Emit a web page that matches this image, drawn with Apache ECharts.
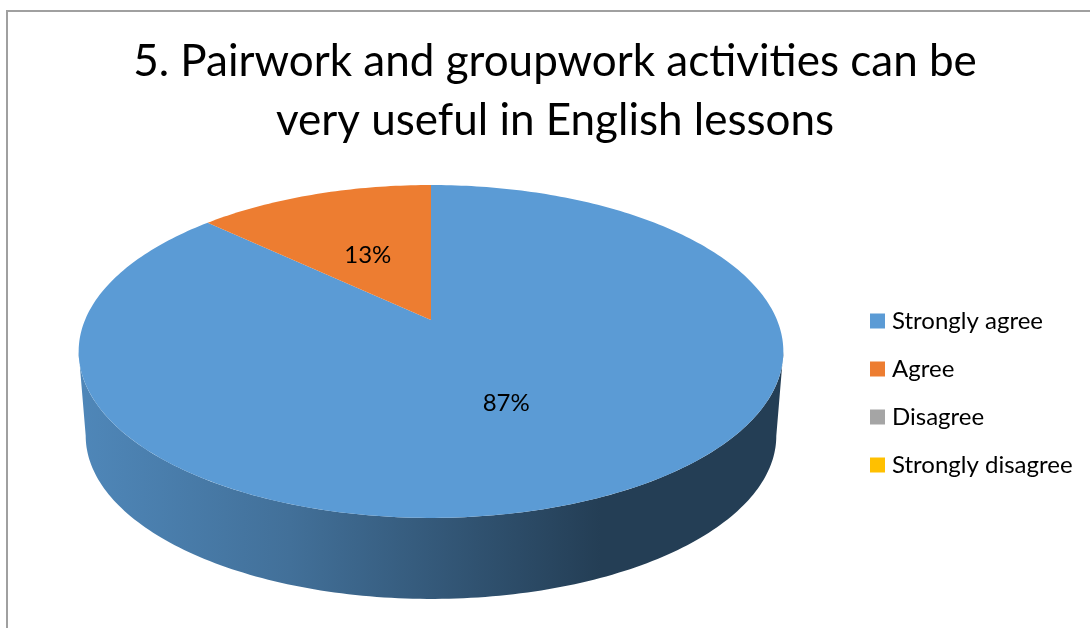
<!DOCTYPE html>
<html>
<head>
<meta charset="utf-8">
<script src="https://cdn.jsdelivr.net/npm/echarts@6/dist/echarts.min.js"></script>
<style>
  html, body { margin: 0; padding: 0; background: #ffffff; }
  #chart { width: 1090px; height: 628px; }
</style>
</head>
<body>
<div id="chart"></div>
<script>
// Survey question and answer shares (percent)
const titleLines = ['5. Pairwork and groupwork activities can be', 'very useful in English lessons'];
const categories = ['Strongly agree', 'Agree', 'Disagree', 'Strongly disagree'];
const shares = [87, 13, 0, 0];
const palette = ['#5b9bd5', '#ed7d31', '#a5a5a5', '#ffc000'];

const FONT = 'Lato, "Open Sans", sans-serif';

// Tilted disc seen in perspective: centre, half-axes, perspective strength,
// thickness of the rim and how much the underside shrinks with distance.
const DISC = { cx: 431, cy: 320, rx: 346, ry: 160.5, persp: 0.189, depth: 85, baseShrink: 0.98, labelR: 0.5 };

const total = shares.reduce((a, b) => a + b, 0);

// Angle is measured clockwise from 12 o'clock; r is a fraction of the radius.
function project(theta, r, drop, shrink) {
  const s = Math.sin(theta), c = Math.cos(theta);
  const w = 1 + DISC.persp * r * c;
  return [
    DISC.cx + DISC.rx * shrink * r * s / w,
    DISC.cy + drop - DISC.ry * shrink * r * c / w
  ];
}

function shade(hex, f) {
  const n = parseInt(hex.slice(1), 16);
  const r = Math.round(((n >> 16) & 255) * f);
  const g = Math.round(((n >> 8) & 255) * f);
  const b = Math.round((n & 255) * f);
  return 'rgb(' + r + ',' + g + ',' + b + ')';
}

// Slice angle ranges built from the shares
const ranges = [];
let acc = 0;
shares.forEach(function (v) {
  const t0 = acc / total * Math.PI * 2;
  acc += v;
  const t1 = acc / total * Math.PI * 2;
  ranges.push([t0, t1, v]);
});

function arcPoints(t0, t1, r, drop, shrink) {
  const pts = [];
  const n = Math.max(2, Math.ceil((t1 - t0) / (Math.PI / 180)));
  for (let i = 0; i <= n; i++) {
    pts.push(project(t0 + (t1 - t0) * i / n, r, drop, shrink));
  }
  return pts;
}

// Front rim: only the part of each slice facing the viewer is drawn
const visFrom = Math.acos(-DISC.persp);
const visTo = Math.PI * 2 - visFrom;

function renderRim(params, api) {
  const t0 = Math.max(api.value(0), visFrom);
  const t1 = Math.min(api.value(1), visTo);
  if (t1 <= t0) return null;
  const base = palette[api.value(3)];
  const top = arcPoints(t0, t1, 1, 0, 1);
  const bottom = arcPoints(t0, t1, 1, DISC.depth, DISC.baseShrink).reverse();
  const left = DISC.cx - DISC.rx * 1.02;
  const right = DISC.cx + DISC.rx * 1.02;
  return {
    type: 'polygon',
    shape: { points: top.concat(bottom) },
    style: {
      fill: {
        type: 'linear', x: left, y: 0, x2: right, y2: 0, global: true,
        colorStops: [
          { offset: 0, color: shade(base, 0.87) },
          { offset: 0.3, color: shade(base, 0.72) },
          { offset: 0.74, color: shade(base, 0.4) },
          { offset: 1, color: shade(base, 0.4) }
        ]
      }
    }
  };
}

function renderTop(params, api) {
  const t0 = api.value(0), t1 = api.value(1), v = api.value(2);
  if (t1 <= t0) return null;
  const pts = [project(0, 0, 0, 1)].concat(arcPoints(t0, t1, 1, 0, 1));
  const lp = project((t0 + t1) / 2, DISC.labelR, 0, 1);
  return {
    type: 'group',
    children: [
      { type: 'polygon', shape: { points: pts }, style: { fill: api.visual('color') } },
      {
        type: 'text', x: lp[0], y: lp[1] + 3, z2: 10,
        style: {
          text: Math.round(v / total * 100) + '%',
          fill: '#000000', font: '24px ' + FONT,
          align: 'center', verticalAlign: 'middle'
        }
      }
    ]
  };
}

const series = [{
  type: 'custom',
  name: 'rim',
  coordinateSystem: 'none',
  z: 1,
  silent: true,
  renderItem: renderRim,
  data: ranges.map(function (r, i) { return [r[0], r[1], r[2], i]; })
}];

categories.forEach(function (name, i) {
  series.push({
    type: 'custom',
    name: name,
    coordinateSystem: 'none',
    z: 2,
    itemStyle: { color: palette[i] },
    renderItem: renderTop,
    data: [ranges[i]]
  });
});

const chart = echarts.init(document.getElementById('chart'));
chart.setOption({
  animation: false,
  backgroundColor: '#ffffff',
  title: {
    text: titleLines.join('\n'),
    left: 555,
    top: 32,
    padding: 0,
    textAlign: 'center',
    textStyle: { fontFamily: FONT, fontSize: 44, fontWeight: 'normal', color: '#000000', lineHeight: 59 }
  },
  legend: {
    data: categories,
    orient: 'vertical',
    left: 870,
    top: 308,
    padding: 0,
    icon: 'rect',
    itemWidth: 15,
    itemHeight: 15,
    itemGap: 22,
    selectedMode: false,
    textStyle: { fontFamily: FONT, fontSize: 24, color: '#000000', lineHeight: 26, padding: [0, 0, 0, 2] }
  },
  graphic: [{
    type: 'rect',
    shape: { x: 7, y: 11, width: 1200, height: 700 },
    style: { fill: 'none', stroke: '#a0a0a0', lineWidth: 2 },
    silent: true
  }],
  series: series
});
</script>
</body>
</html>
